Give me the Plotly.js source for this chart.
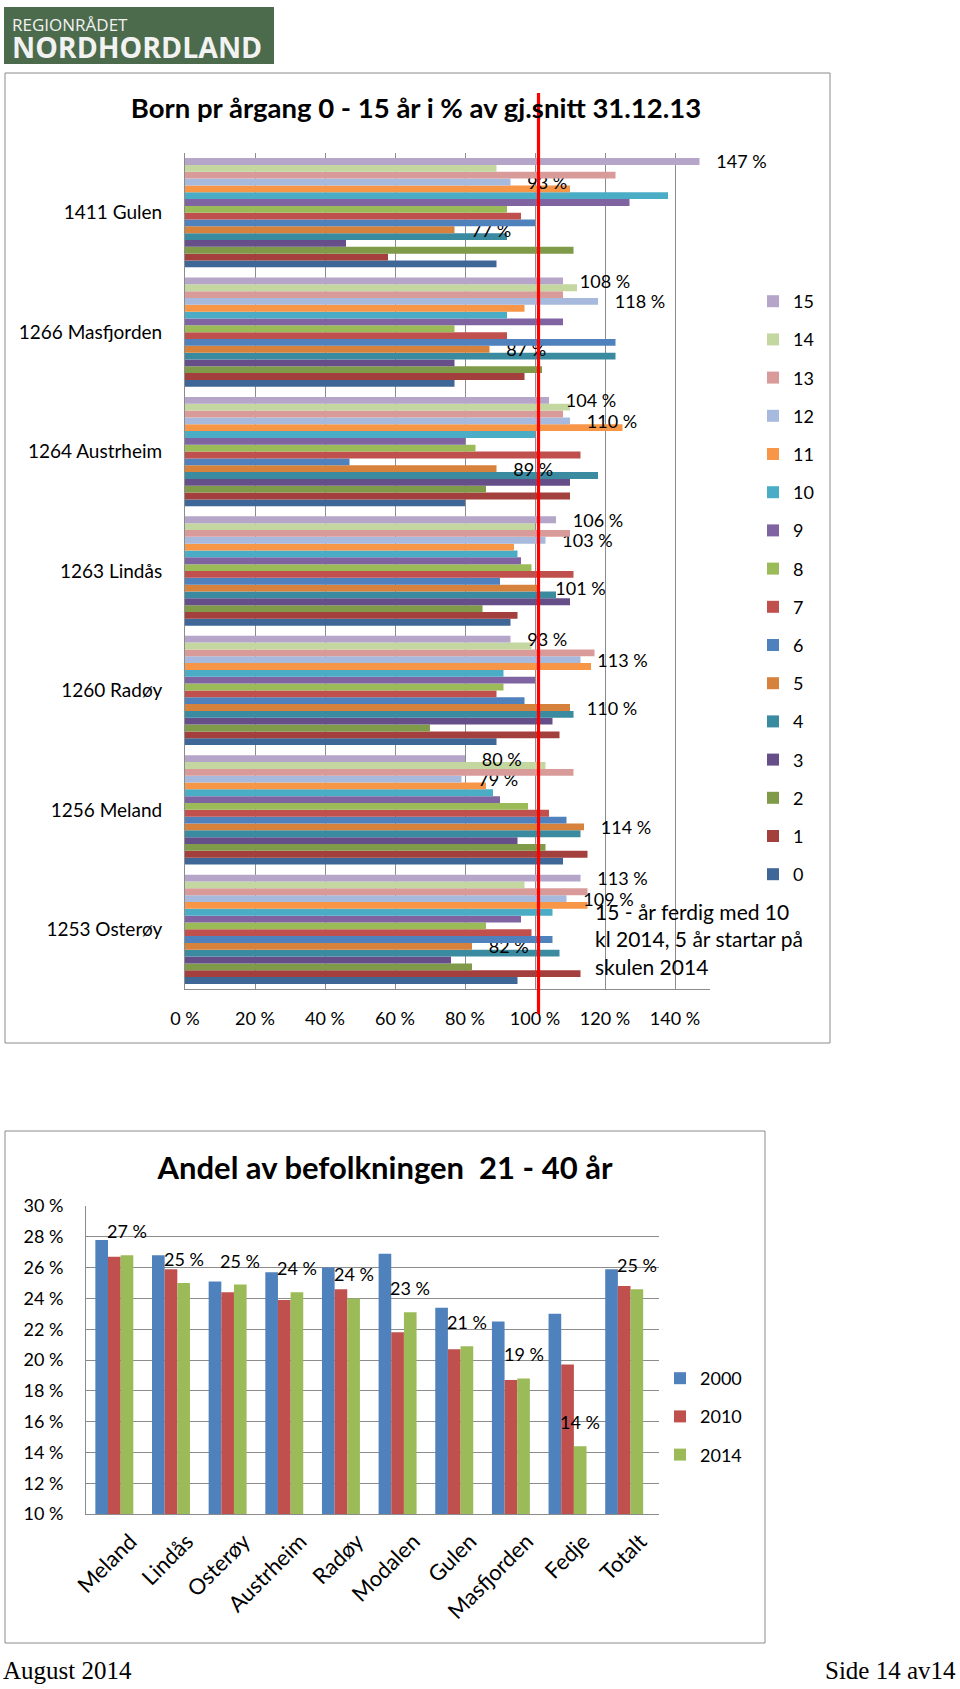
<!DOCTYPE html>
<html><head><meta charset="utf-8">
<script src="https://cdn.plot.ly/plotly-3.0.1.min.js"></script>
<style>
body{margin:0;background:#fff;}
#top{position:absolute;left:0;top:0;width:960px;height:1060px;}
#bot{position:absolute;left:0;top:1060px;width:960px;height:629px;}
</style>
</head><body>
<div id="top"></div><div id="bot"></div>
<script>
// ---------- Top chart data: born per year-class as % of average, 31.12.13 ----------
const municipalities = ['1411 Gulen','1266 Masfjorden','1264 Austrheim','1263 Lindås','1260 Radøy','1256 Meland','1253 Osterøy'];
const age0  = [89, 77, 80, 93, 89, 108, 95];
const age1  = [58, 97, 110, 95, 107, 115, 113];
const age2  = [111, 102, 86, 85, 70, 103, 82];
const age3  = [46, 77, 110, 110, 105, 95, 76];
const age4  = [92, 123, 118, 106, 111, 113, 107];
const age5  = [77, 87, 89, 101, 110, 114, 82];
const age6  = [100, 123, 47, 90, 97, 109, 105];
const age7  = [96, 92, 113, 111, 89, 104, 99];
const age8  = [92, 77, 83, 99, 91, 98, 86];
const age9  = [127, 108, 80, 96, 100, 90, 96];
const age10 = [138, 92, 100, 95, 91, 88, 105];
const age11 = [110, 97, 125, 94, 116, 86, 115];
const age12 = [93, 118, 110, 103, 113, 79, 109];
const age13 = [123, 108, 108, 110, 117, 111, 115];
const age14 = [89, 112, 110, 100, 99, 103, 97];
const age15 = [147, 108, 104, 106, 93, 80, 113];
const ageSeries = [age0,age1,age2,age3,age4,age5,age6,age7,age8,age9,age10,age11,age12,age13,age14,age15];
const ageNames = ['0','1','2','3','4','5','6','7','8','9','10','11','12','13','14','15'];
const labelledAges = [15, 12, 5];
const averageLine = 101;
const topTitle = 'Born pr årgang 0 - 15 år i % av gj.snitt 31.12.13';
const noteText = '15 - år ferdig med 10<br>kl 2014, 5 år startar på<br>skulen 2014';
const logoSmall = 'REGIONRÅDET';
const logoBig = 'NORDHORDLAND';

// ---------- Bottom chart data: share of population aged 21-40 ----------
const places = ['Meland','Lindås','Osterøy','Austrheim','Radøy','Modalen','Gulen','Masfjorden','Fedje','Totalt'];
const share2000 = [27.8, 26.8, 25.1, 25.7, 26.0, 26.9, 23.4, 22.5, 23.0, 25.9];
const share2010 = [26.7, 25.9, 24.4, 23.9, 24.6, 21.8, 20.7, 18.7, 19.7, 24.8];
const share2014 = [26.8, 25.0, 24.9, 24.4, 24.0, 23.1, 20.9, 18.8, 14.4, 24.6];
const yearNames = ['2000','2010','2014'];
const bottomTitle = 'Andel av befolkningen  21 - 40 år';

// ---------- styles ----------
const ageColors = ['#3E6697','#A33F3C','#7F9A48','#664F88','#3A8AA0','#D7823C',
                   '#4F81BD','#C0504D','#9BBB59','#8064A2','#4BACC6','#F79646',
                   '#A7B9DD','#D99B9A','#C4D7A0','#B5A5C9'];
const yearColors = ['#4F81BD','#C0504D','#9BBB59'];
const F = 'Lato, "Open Sans", sans-serif';
const SERIF = '"Liberation Serif", "Times New Roman", serif';
const GRID = '#8C8C8C';
const NB = '\u00a0\u00a0\u00a0';

// ================= TOP =================
const TW = 960, TH = 1060;
const tx = x => x / TW, ty = y => 1 - y / TH;

const topTraces = ageSeries.map((vals, i) => {
  const lab = labelledAges.includes(i);
  return {
    type: 'bar', orientation: 'h', name: ageNames[i],
    y: municipalities, x: vals,
    marker: { color: ageColors[i], line: { width: 0 } },
    legendgroup: 'a' + i, legendrank: 100 + (ageSeries.length - i),
    text: lab ? vals.map(v => NB + Math.round(v) + ' %') : undefined,
    textposition: lab ? 'outside' : 'none',
    textfont: { family: F, size: 18, color: '#000' },
    constraintext: 'none', cliponaxis: false,
    hoverinfo: 'skip'
  };
});

const topLayout = {
  width: TW, height: TH, margin: { l: 0, r: 0, t: 0, b: 0 },
  paper_bgcolor: '#fff', plot_bgcolor: '#fff',
  barmode: 'group', bargap: 0.085, bargroupgap: 0,
  font: { family: F, color: '#000' },
  title: { text: '<b>' + topTitle + '</b>', x: tx(416), y: ty(108), xanchor: 'center', yanchor: 'middle',
           xref: 'paper', yref: 'paper', font: { family: F, size: 27.5, color: '#000' } },
  xaxis: { domain: [tx(185), tx(710)], range: [0, 150], tick0: 0, dtick: 20, ticksuffix: ' %',
           showgrid: true, gridcolor: GRID, gridwidth: 1, zeroline: false,
           showline: true, linecolor: GRID, linewidth: 1, ticks: '',
           tickfont: { family: F, size: 18, color: '#000' }, ticklabelstandoff: 13, fixedrange: true },
  yaxis: { domain: [ty(989), ty(153)], type: 'category', categoryorder: 'array',
           categoryarray: municipalities.slice().reverse(),
           showgrid: false, zeroline: false, showline: true, linecolor: GRID, linewidth: 1, ticks: '',
           tickfont: { family: F, size: 19, color: '#000' }, ticklabelstandoff: 18, fixedrange: true },
  legend: { x: tx(753), xanchor: 'left', y: ty(283), yanchor: 'top', traceorder: 'grouped',
            tracegroupgap: 11.8, font: { family: F, size: 18, color: '#000' }, bgcolor: 'rgba(0,0,0,0)' },
  showlegend: true,
  shapes: [
    { type: 'rect', xref: 'paper', yref: 'paper', x0: tx(5), x1: tx(830), y0: ty(73), y1: ty(1043),
      line: { color: '#8A8A8A', width: 1 }, fillcolor: 'rgba(0,0,0,0)', layer: 'below' },
    { type: 'rect', xref: 'paper', yref: 'paper', x0: tx(4), x1: tx(274), y0: ty(7), y1: ty(64),
      line: { width: 0 }, fillcolor: '#4B6B4C' },
    { type: 'line', xref: 'x', yref: 'paper', x0: averageLine, x1: averageLine, y0: ty(1014), y1: ty(93),
      line: { color: '#FF0000', width: 3.2 } }
  ],
  annotations: [
    { text: '<span style="font-size:17px">' + logoSmall + '</span><br><b><span style="font-size:28.5px">' + logoBig + '</span></b>',
      xref: 'paper', yref: 'paper', x: tx(11), y: ty(39), xanchor: 'left', yanchor: 'middle', align: 'left',
      showarrow: false, borderpad: 0, font: { family: '"Open Sans", sans-serif', size: 20.5, color: '#F2F2F2' } },
    { text: noteText, xref: 'paper', yref: 'paper', x: tx(593), y: ty(897), xanchor: 'left', yanchor: 'top',
      align: 'left', showarrow: false, font: { family: F, size: 21, color: '#000' } }
  ]
};

Plotly.newPlot('top', topTraces, topLayout, { staticPlot: true, displayModeBar: false });

// ================= BOTTOM =================
const BW = 960, BH = 629;
const bx = x => x / BW, by = y => 1 - y / BH;
const shares = [share2000, share2010, share2014];

const botTraces = shares.map((vals, i) => ({
  type: 'bar', name: yearNames[i], x: places, y: vals,
  marker: { color: yearColors[i], line: { width: 0 } },
  legendgroup: 'y' + i, hoverinfo: 'skip'
}));

const groupPx = (659 - 86) / places.length;
const bargapB = 0.33;
const barPx = groupPx * (1 - bargapB) / 3;

const botLayout = {
  width: BW, height: BH, margin: { l: 0, r: 0, t: 0, b: 0 },
  paper_bgcolor: '#fff', plot_bgcolor: '#fff',
  barmode: 'group', bargap: bargapB, bargroupgap: 0,
  font: { family: F, color: '#000' },
  title: { text: '<b>' + bottomTitle + '</b>', x: bx(385), y: by(108), xanchor: 'center', yanchor: 'middle',
           xref: 'paper', yref: 'paper', font: { family: F, size: 31, color: '#000' } },
  xaxis: { domain: [bx(86), bx(659)], type: 'category', showgrid: false, zeroline: false,
           showline: true, linecolor: GRID, linewidth: 1, ticks: '', tickangle: -45,
           tickfont: { family: F, size: 22, color: '#000' }, ticklabelstandoff: 5, ticklabelshift: 16,
           fixedrange: true },
  yaxis: { domain: [by(454), by(146)], range: [10, 30], tick0: 10, dtick: 2, ticksuffix: ' %',
           showgrid: true, gridcolor: GRID, gridwidth: 1, zeroline: false,
           showline: true, linecolor: GRID, linewidth: 1, ticks: '',
           tickfont: { family: F, size: 18, color: '#000' }, ticklabelstandoff: 18, fixedrange: true },
  legend: { x: bx(660), xanchor: 'left', y: by(300), yanchor: 'top', traceorder: 'grouped',
            tracegroupgap: 11.8, font: { family: F, size: 18, color: '#000' }, bgcolor: 'rgba(0,0,0,0)' },
  showlegend: true,
  shapes: [
    { type: 'rect', xref: 'paper', yref: 'paper', x0: bx(5), x1: bx(765), y0: by(71), y1: by(583),
      line: { color: '#8A8A8A', width: 1 }, fillcolor: 'rgba(0,0,0,0)', layer: 'below' }
  ],
  annotations: share2014.map((v, i) => ({
    x: places[i], y: v, xref: 'x', yref: 'y', text: Math.round(v) + ' %',
    xshift: barPx, yshift: 24, xanchor: 'center', yanchor: 'middle', showarrow: false,
    font: { family: F, size: 18, color: '#000' }
  })).concat([
    { text: 'August 2014', xref: 'paper', yref: 'paper', x: bx(1), y: by(610), xanchor: 'left', yanchor: 'middle',
      showarrow: false, font: { family: SERIF, size: 25, color: '#000' } },
    { text: 'Side 14 av14', xref: 'paper', yref: 'paper', x: bx(958), y: by(610), xanchor: 'right', yanchor: 'middle',
      showarrow: false, font: { family: SERIF, size: 25, color: '#000' } }
  ])
};

Plotly.newPlot('bot', botTraces, botLayout, { staticPlot: true, displayModeBar: false });
</script>
</body></html>
